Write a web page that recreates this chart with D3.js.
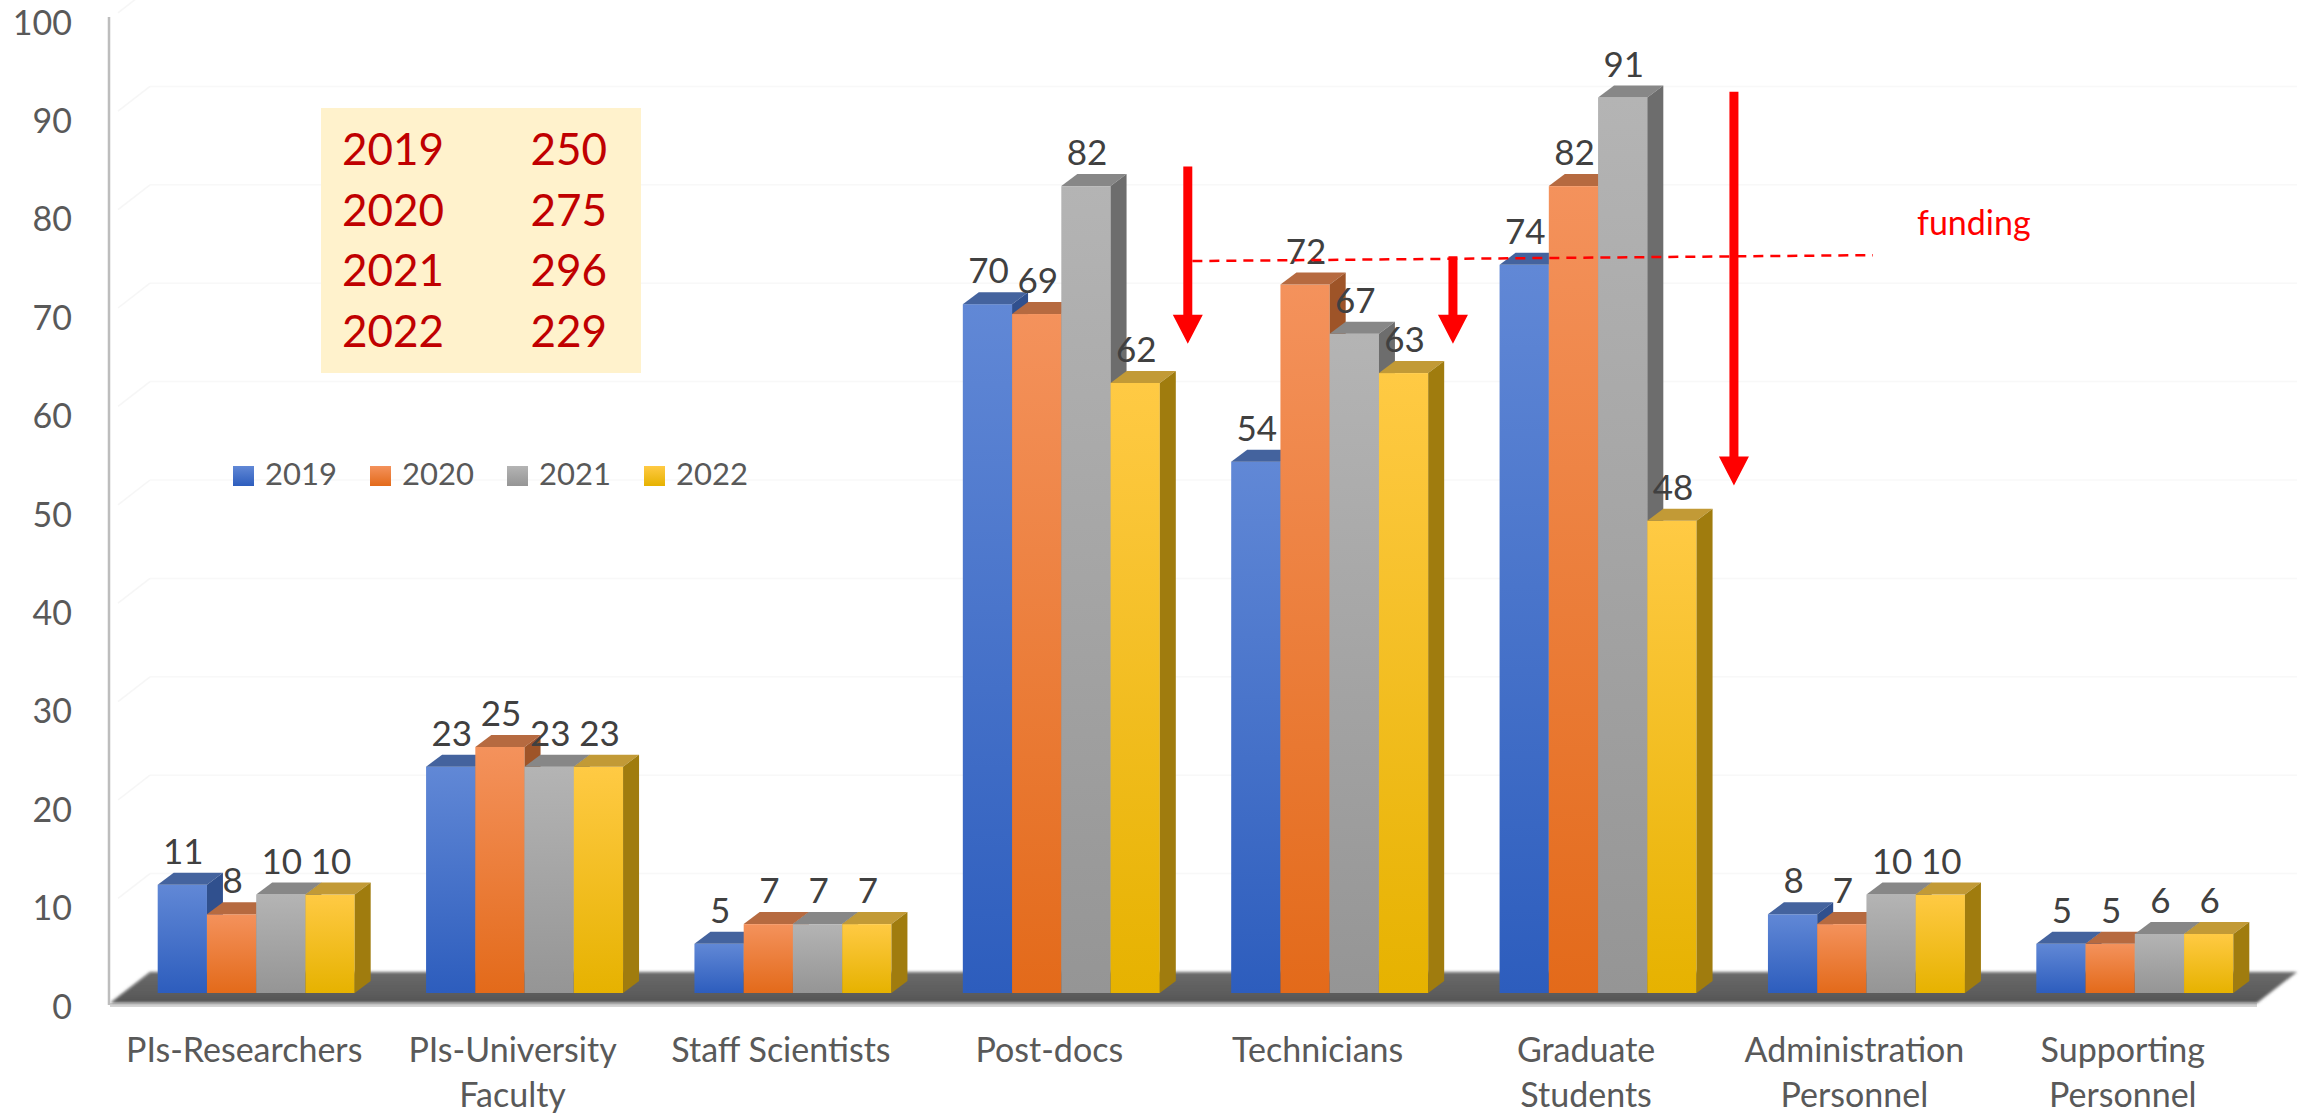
<!DOCTYPE html>
<html><head><meta charset="utf-8">
<script src="https://cdn.jsdelivr.net/npm/d3@7"></script>
<style>html,body{margin:0;padding:0;background:#fff;}svg{display:block;font-family:Lato,"Open Sans",sans-serif;}</style>
</head><body>
<script>
// ---------- data ----------
const categories = ["PIs-Researchers","PIs-University Faculty","Staff Scientists","Post-docs","Technicians","Graduate Students","Administration Personnel","Supporting Personnel"];
const categoryLines = [["PIs-Researchers"],["PIs-University","Faculty"],["Staff Scientists"],["Post-docs"],["Technicians"],["Graduate","Students"],["Administration","Personnel"],["Supporting","Personnel"]];
const years = ["2019","2020","2021","2022"];
const v2019 = [11,23,5,70,54,74,8,5];
const v2020 = [8,25,7,69,72,82,7,5];
const v2021 = [10,23,7,82,67,91,10,6];
const v2022 = [10,23,7,62,63,48,10,6];
const yTicks = [0,10,20,30,40,50,60,70,80,90,100];
const totalYears = ["2019","2020","2021","2022"];
const totalValues = [250,275,296,229];
// annotation arrows: category, offset (in band steps from band start), from value, to value
const arrows = [
  {cat:"Post-docs", off:0.883, from:85, to:67},
  {cat:"Technicians", off:0.871, from:75.9, to:67},
  {cat:"Graduate Students", off:0.918, from:92.6, to:52.6}
];
const fundingLine = {cat1:"Post-docs", off1:0.90, v1:75.4, cat2:"Graduate Students", off2:1.436, v2:76.0};
const fundingLabel = {cat:"Graduate Students", off:1.6, v:78, text:"funding"};

const series = [v2019,v2020,v2021,v2022];
const colors = {
  front:[["#6188d6","#2d5dbd"],["#f4925c","#e36a1a"],["#b4b4b4","#959595"],["#ffca44","#e6b200"]],
  top:["#44639e","#b66a40","#878787","#c29a36"],
  side:["#30508e","#9e5428","#6d6d6d","#a07c0e"]
};

// ---------- layout ----------
const W=2308,H=1118;
const floorL=110, floorR=2257, floorY=1003;
const depthDX=40, depthDY=-31;   // floor depth
const barDX=12, barDY=-10;       // bars sit in middle of depth
const capDX=16, capDY=-12;       // bar depth

const svg=d3.select("body").append("svg").attr("width",W).attr("height",H);
svg.append("rect").attr("width",W).attr("height",H).attr("fill","#fff");
const defs=svg.append("defs");
colors.front.forEach((c,i)=>{
  const g=defs.append("linearGradient").attr("id","g"+i).attr("x1",0).attr("y1",0).attr("x2",0).attr("y2",1);
  g.append("stop").attr("offset","0%").attr("stop-color",c[0]);
  g.append("stop").attr("offset","100%").attr("stop-color",c[1]);
});
const fg=defs.append("linearGradient").attr("id","floorG").attr("x1",0).attr("y1",0).attr("x2",0).attr("y2",1);
fg.append("stop").attr("offset","0%").attr("stop-color","#6a6a6a");
fg.append("stop").attr("offset","100%").attr("stop-color","#555");
const blur=defs.append("filter").attr("id","soft").attr("x","-5%").attr("y","-50%").attr("width","110%").attr("height","200%");
blur.append("feGaussianBlur").attr("stdDeviation",1.5);

const x=d3.scaleBand().domain(categories).range([floorL,floorR]).paddingInner(0.266).paddingOuter(0.133);
const xi=d3.scaleBand().domain(years).range([0,x.bandwidth()]);
const y=d3.scaleLinear().domain([0,100]).range([floorY,floorY-984]);
const bandPos=(cat,off)=>x(cat)+off*x.step();

// back wall faint gridlines
yTicks.forEach(t=>{
  svg.append("line").attr("x1",floorL+depthDX).attr("x2",floorR+depthDX)
    .attr("y1",y(t)+depthDY).attr("y2",y(t)+depthDY).attr("stroke","#f8f8f8").attr("stroke-width",1.5);
  svg.append("line").attr("x1",floorL+8).attr("x2",floorL+depthDX)
    .attr("y1",y(t)+depthDY*0.2).attr("y2",y(t)+depthDY).attr("stroke","#f6f6f6").attr("stroke-width",1.5);
});

// floor
svg.append("line").attr("x1",floorL).attr("x2",floorR).attr("y1",floorY+2).attr("y2",floorY+2).attr("stroke","#d4d4d4").attr("stroke-width",4);
svg.append("path").attr("d",`M${floorL},${floorY}L${floorR},${floorY}L${floorR+depthDX},${floorY+depthDY}L${floorL+depthDX},${floorY+depthDY}Z`)
  .attr("fill","url(#floorG)").attr("filter","url(#soft)");

// y axis line
svg.append("line").attr("x1",floorL-1).attr("x2",floorL-1).attr("y1",y(100)-2).attr("y2",floorY+2).attr("stroke","#bdbdbd").attr("stroke-width",2.5);

// y tick labels
svg.append("g").selectAll("text").data(yTicks).join("text")
  .attr("x",72).attr("y",d=>y(d)+2).attr("text-anchor","end").attr("dominant-baseline","central")
  .attr("font-size",34).attr("fill","#595959").text(d=>d);

// bars
const bars=svg.append("g");
categories.forEach((cat,ci)=>{
  years.forEach((yr,si)=>{
    const v=series[si][ci];
    const x0=x(cat)+xi(yr)+barDX, w=xi.bandwidth();
    const yt=y(v)+barDY, yb=y(0)+barDY;
    const g=bars.append("g");
    g.append("rect").attr("x",x0).attr("y",yt).attr("width",w).attr("height",yb-yt).attr("fill",`url(#g${si})`);
    g.append("path").attr("d",`M${x0},${yt}L${x0+w},${yt}L${x0+w+capDX},${yt+capDY}L${x0+capDX},${yt+capDY}Z`).attr("fill",colors.top[si]);
    g.append("path").attr("d",`M${x0+w},${yt}L${x0+w+capDX},${yt+capDY}L${x0+w+capDX},${yb+capDY}L${x0+w},${yb}Z`).attr("fill",colors.side[si]);
  });
});
// data labels
categories.forEach((cat,ci)=>{
  years.forEach((yr,si)=>{
    const v=series[si][ci];
    svg.append("text").attr("x",x(cat)+xi(yr)+barDX+xi.bandwidth()/2+1).attr("y",y(v)+barDY-21)
      .attr("text-anchor","middle").attr("font-size",35).attr("fill","#404040").text(v);
  });
});

// category labels
categoryLines.forEach((lines,ci)=>{
  const cx=x(categories[ci])+x.bandwidth()/2;
  const t=svg.append("text").attr("x",cx).attr("y",1062)
    .attr("text-anchor","middle").attr("font-size",34).attr("fill","#595959");
  lines.forEach((l,li)=>t.append("tspan").attr("x",cx).attr("dy",li?45:0).text(l));
});

// legend
const leg=svg.append("g").attr("transform","translate(233,466)");
years.forEach((yr,i)=>{
  const g=leg.append("g").attr("transform",`translate(${i*137},0)`);
  g.append("rect").attr("width",21).attr("height",20).attr("fill",`url(#g${i})`);
  g.append("text").attr("x",32).attr("y",19).attr("font-size",31).attr("fill","#595959").text(yr);
});

// totals box
svg.append("rect").attr("x",321).attr("y",108).attr("width",320).attr("height",265).attr("fill","#fff2cc");
totalYears.forEach((yr,i)=>{
  svg.append("text").attr("x",342).attr("y",165+i*60.7).attr("font-size",44).attr("fill","#c00000").text(yr);
  svg.append("text").attr("x",607).attr("y",165+i*60.7).attr("text-anchor","end").attr("font-size",44).attr("fill","#c00000").text(totalValues[i]);
});

// funding dashed line
svg.append("line").attr("x1",bandPos(fundingLine.cat1,fundingLine.off1)).attr("y1",y(fundingLine.v1))
  .attr("x2",bandPos(fundingLine.cat2,fundingLine.off2)).attr("y2",y(fundingLine.v2))
  .attr("stroke","#ff0000").attr("stroke-width",2.5).attr("stroke-dasharray","10,7");
svg.append("text").attr("x",bandPos(fundingLabel.cat,fundingLabel.off)).attr("y",y(fundingLabel.v))
  .attr("font-size",34).attr("fill","#ff0000").text(fundingLabel.text);

// arrows
arrows.forEach(a=>{
  const ax=bandPos(a.cat,a.off), y1=y(a.from), y2=y(a.to);
  const headH=29, headW=30, shaftW=9;
  svg.append("path").attr("d",
    `M${ax-shaftW/2},${y1}L${ax+shaftW/2},${y1}L${ax+shaftW/2},${y2-headH}L${ax+headW/2},${y2-headH}L${ax},${y2}L${ax-headW/2},${y2-headH}L${ax-shaftW/2},${y2-headH}Z`)
    .attr("fill","#ff0000");
});
</script>
</body></html>
